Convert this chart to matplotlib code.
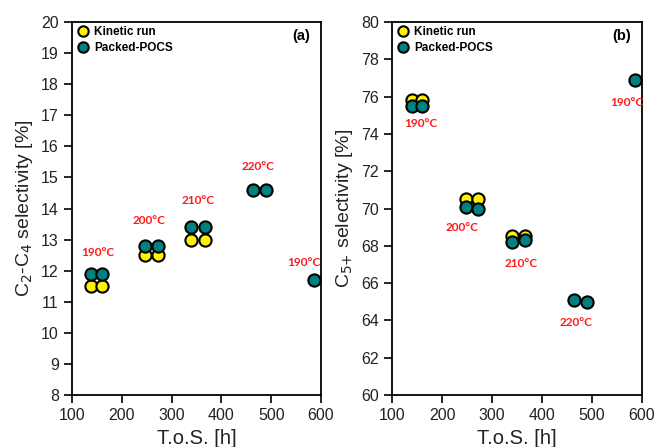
import matplotlib
matplotlib.use("Agg")
import matplotlib.pyplot as plt
from matplotlib.lines import Line2D

# Panel (a): C2-C4 selectivity
kin_x_a = [139, 160, 247, 272, 339, 367]
kin_y_a = [11.5, 11.5, 12.5, 12.5, 13.0, 13.0]
poc_x_a = [139, 160, 247, 272, 339, 367, 464, 489, 586]
poc_y_a = [11.9, 11.9, 12.8, 12.8, 13.4, 13.4, 14.6, 14.6, 11.7]
lab_a = ["190°C", "200°C", "210°C", "220°C", "190°C"]
lab_x_a = [151, 255, 353, 474, 565]
lab_y_a = [12.6, 13.6, 14.25, 15.34, 12.26]

# Panel (b): C5+ selectivity
kin_x_b = [139, 159, 247, 271, 339, 366]
kin_y_b = [75.8, 75.8, 70.5, 70.5, 68.5, 68.5]
poc_x_b = [139, 159, 247, 271, 339, 366, 464, 489, 585]
poc_y_b = [75.5, 75.5, 70.1, 70.0, 68.2, 68.3, 65.1, 65.0, 76.9]
lab_b = ["190°C", "200°C", "210°C", "220°C", "190°C"]
lab_x_b = [158, 241, 358, 469, 569]
lab_y_b = [74.55, 68.98, 67.05, 63.9, 75.7]

YELLOW = "#FFF200"
TEAL = "#00807F"

plt.rcParams['font.family'] = ['Liberation Sans', 'DejaVu Sans']

fig = plt.figure(figsize=(6.57, 4.47), dpi=100)
ax1 = fig.add_axes([0.1096, 0.1163, 0.3790, 0.8345])
ax2 = fig.add_axes([0.5967, 0.1163, 0.3805, 0.8345])

ms = 8.8
mew = 1.5

def draw(ax, kx, ky, px, py, labs, lx, ly, ylim, yticks, ylabel, tag):
    ax.plot(kx, ky, 'o', ms=ms, mfc=YELLOW, mec='black', mew=mew, zorder=3, clip_on=False)
    ax.plot(px, py, 'o', ms=ms, mfc=TEAL, mec='black', mew=mew, zorder=4, clip_on=False)
    for t, x, y in zip(labs, lx, ly):
        ax.text(x, y, t, color='#FF1A1A', fontsize=8.5, fontweight='bold',
                family=['Lato', 'DejaVu Sans'], ha='center', va='center')
    ax.set_xlim(100, 600)
    ax.set_ylim(*ylim)
    ax.set_xticks([100, 200, 300, 400, 500, 600])
    ax.set_yticks(yticks)
    ax.tick_params(direction='out', length=6, width=1.2, labelsize=11.5, colors='black',
                   labelcolor='#222222')
    for s in ax.spines.values():
        s.set_linewidth(1.3)
    ax.set_xlabel("T.o.S. [h]", fontsize=14.5, color='#222222', labelpad=4)
    ax.set_ylabel(ylabel, fontsize=14, color='#222222', labelpad=4)
    ax.text(0.92, 0.963, tag, transform=ax.transAxes, fontsize=10.5, fontweight='bold',
            ha='center', va='center')
    handles = [Line2D([], [], marker='o', ls='none', ms=7.5, mfc=YELLOW, mec='black', mew=1.5),
               Line2D([], [], marker='o', ls='none', ms=7.5, mfc=TEAL, mec='black', mew=1.5)]
    ax.legend(handles, ["Kinetic run", "Packed-POCS"], loc='upper left', frameon=False,
              prop={'size': 8.5, 'weight': 'bold'}, handletextpad=0.3, borderaxespad=0.15,
              labelspacing=0.3, handlelength=1.2, borderpad=0.2)

draw(ax1, kin_x_a, kin_y_a, poc_x_a, poc_y_a, lab_a, lab_x_a, lab_y_a,
     (8, 20), list(range(8, 21)), r"C$_2$-C$_4$ selectivity [%]", "(a)")
draw(ax2, kin_x_b, kin_y_b, poc_x_b, poc_y_b, lab_b, lab_x_b, lab_y_b,
     (60, 80), list(range(60, 81, 2)), r"C$_{5\text{+}}$ selectivity [%]", "(b)")

fig.savefig("out.png", dpi=100)
